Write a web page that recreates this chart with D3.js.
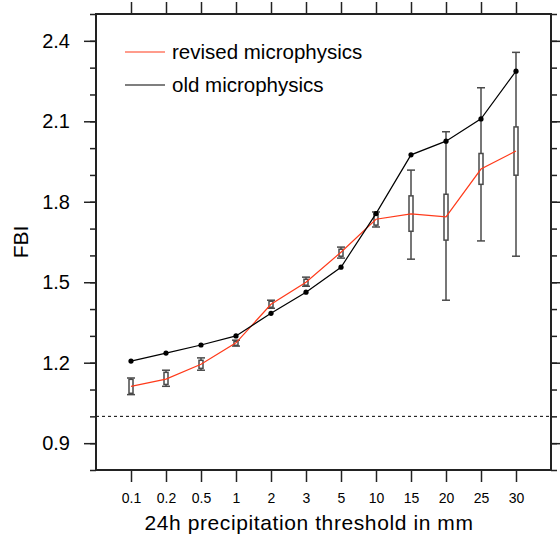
<!DOCTYPE html>
<html>
<head>
<meta charset="utf-8">
<script src="https://cdn.jsdelivr.net/npm/d3@7"></script>
<style>
  body { margin: 0; background: #fff; }
  text { font-family: "Liberation Sans", Helvetica, Arial, sans-serif; fill: #000; }
</style>
</head>
<body>
<div id="chart"></div>
<script>
const thresholds = ["0.1", "0.2", "0.5", "1", "2", "3", "5", "10", "15", "20", "25", "30"];
const oldFBI = [1.206, 1.236, 1.266, 1.300, 1.384, 1.463, 1.556, 1.756, 1.975, 2.026, 2.109, 2.287];
const revisedFBI = [1.112, 1.139, 1.194, 1.274, 1.418, 1.500, 1.612, 1.735, 1.755, 1.744, 1.922, 1.989];
// spread of the revised runs: whisker low/high, box low/high
const whiskLow = [1.081, 1.112, 1.172, 1.262, 1.403, 1.485, 1.590, 1.706, 1.586, 1.433, 1.654, 1.597];
const whiskHigh = [1.143, 1.172, 1.218, 1.284, 1.433, 1.519, 1.631, 1.762, 1.918, 2.061, 2.225, 2.357];
const boxLow = [1.086, 1.119, 1.179, 1.265, 1.407, 1.489, 1.597, 1.713, 1.690, 1.657, 1.865, 1.899];
const boxHigh = [1.138, 1.164, 1.209, 1.280, 1.429, 1.511, 1.623, 1.754, 1.822, 1.828, 1.980, 2.079];
const yTicks = [0.9, 1.2, 1.5, 1.8, 2.1, 2.4];
const legendNames = ["revised microphysics", "old microphysics"];

const width = 560, height = 539;
const plotL = 96, plotR = 551, plotT = 14, plotB = 470;
const red = "#ff3a1a";

const svg = d3.select("#chart")
    .append("svg")
    .attr("width", width)
    .attr("height", height);

const x = d3.scalePoint()
    .domain(thresholds)
    .range([plotL, plotR])
    .padding(1);

const y = d3.scaleLinear()
    .domain([0.8, 2.5])
    .range([plotB, plotT]);

const minorTicks = d3.range(8, 26).map(d => d / 10);

// reference line at FBI = 1
svg.append("line")
    .attr("x1", plotL).attr("x2", plotR)
    .attr("y1", y(1)).attr("y2", y(1))
    .attr("stroke", "#000")
    .attr("stroke-width", 1)
    .attr("stroke-dasharray", "3,3");

// whiskers and boxes
const bars = svg.append("g")
    .attr("stroke", "#4a4a4a")
    .attr("stroke-width", 1.5)
    .attr("fill", "none");

thresholds.forEach((t, i) => {
    const cx = x(t);
    bars.append("line")
        .attr("x1", cx).attr("x2", cx)
        .attr("y1", y(whiskLow[i])).attr("y2", y(whiskHigh[i]));
    bars.append("line")
        .attr("x1", cx - 4).attr("x2", cx + 4)
        .attr("y1", y(whiskLow[i])).attr("y2", y(whiskLow[i]));
    bars.append("line")
        .attr("x1", cx - 4).attr("x2", cx + 4)
        .attr("y1", y(whiskHigh[i])).attr("y2", y(whiskHigh[i]));
    bars.append("rect")
        .attr("x", cx - 2)
        .attr("y", y(boxHigh[i]))
        .attr("width", 4)
        .attr("height", y(boxLow[i]) - y(boxHigh[i]))
        .attr("fill", "#fff");
});

const line = d3.line()
    .x((d, i) => x(thresholds[i]))
    .y(d => y(d));

svg.append("path")
    .datum(revisedFBI)
    .attr("d", line)
    .attr("fill", "none")
    .attr("stroke", red)
    .attr("stroke-width", 1.2);

svg.append("path")
    .datum(oldFBI)
    .attr("d", line)
    .attr("fill", "none")
    .attr("stroke", "#000")
    .attr("stroke-width", 1.2);

svg.selectAll("circle.old")
    .data(oldFBI)
    .enter()
    .append("circle")
    .attr("class", "old")
    .attr("cx", (d, i) => x(thresholds[i]))
    .attr("cy", d => y(d))
    .attr("r", 2.6)
    .attr("fill", "#000");

// axes
const axisColor = "#222";

const leftMinor = svg.append("g")
    .attr("transform", `translate(${plotL},0)`)
    .call(d3.axisLeft(y).tickValues(minorTicks).tickSize(6).tickFormat(""));
const leftMajor = svg.append("g")
    .attr("transform", `translate(${plotL},0)`)
    .call(d3.axisLeft(y).tickValues(yTicks).tickSize(12).tickPadding(14).tickFormat(d3.format(".1f")));
const rightMinor = svg.append("g")
    .attr("transform", `translate(${plotR},0)`)
    .call(d3.axisRight(y).tickValues(minorTicks).tickSize(6).tickFormat(""));
const rightMajor = svg.append("g")
    .attr("transform", `translate(${plotR},0)`)
    .call(d3.axisRight(y).tickValues(yTicks).tickSize(12).tickFormat(""));
const bottomAxis = svg.append("g")
    .attr("transform", `translate(0,${plotB})`)
    .call(d3.axisBottom(x).tickSize(12).tickPadding(11));
const topAxis = svg.append("g")
    .attr("transform", `translate(0,${plotT})`)
    .call(d3.axisTop(x).tickSize(12).tickFormat(""));

[leftMinor, leftMajor, rightMinor, rightMajor, bottomAxis, topAxis].forEach(g => {
    g.select(".domain").remove();
    g.selectAll(".tick line").attr("stroke", axisColor).attr("stroke-width", 1.5);
});

leftMajor.selectAll(".tick text")
    .attr("font-size", "20px")
    .attr("fill", "#000");
bottomAxis.selectAll(".tick text")
    .attr("font-size", "14px")
    .attr("fill", "#000");

svg.append("rect")
    .attr("x", plotL).attr("y", plotT)
    .attr("width", plotR - plotL)
    .attr("height", plotB - plotT)
    .attr("fill", "none")
    .attr("stroke", axisColor)
    .attr("stroke-width", 2);

// axis titles
svg.append("text")
    .attr("x", 309)
    .attr("y", 530)
    .attr("text-anchor", "middle")
    .attr("font-size", "21px")
    .attr("letter-spacing", "0.6px")
    .text("24h precipitation threshold in mm");

svg.append("text")
    .attr("transform", `translate(28,${(plotT + plotB) / 2}) rotate(-90)`)
    .attr("text-anchor", "middle")
    .attr("font-size", "21px")
    .text("FBI");

// legend
const legend = svg.append("g");
[red, "#000"].forEach((c, i) => {
    const ly = 52 + i * 33;
    legend.append("line")
        .attr("x1", 125).attr("x2", 165)
        .attr("y1", ly).attr("y2", ly)
        .attr("stroke", c)
        .attr("stroke-width", 1.2);
    legend.append("text")
        .attr("x", 172)
        .attr("y", ly)
        .attr("dy", "0.35em")
        .attr("font-size", "20.5px")
        .text(legendNames[i]);
});
</script>
</body>
</html>
